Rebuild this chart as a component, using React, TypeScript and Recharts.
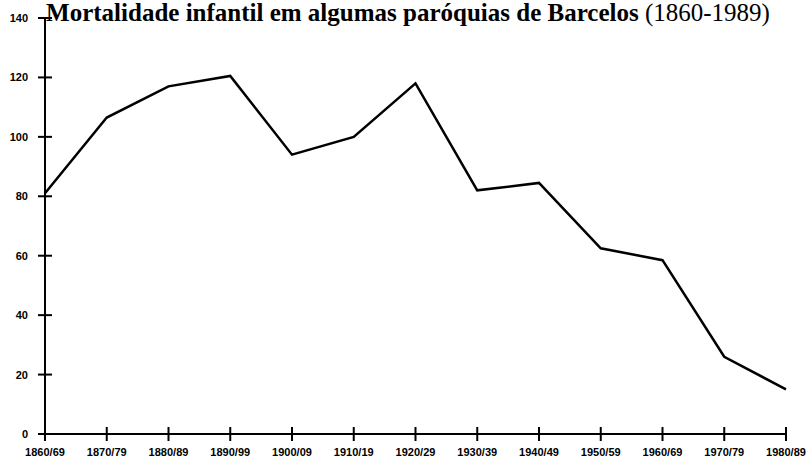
import React from 'react';
import { LineChart, Line, XAxis, YAxis } from 'recharts';

const decades = [
  '1860/69', '1870/79', '1880/89', '1890/99', '1900/09', '1910/19', '1920/29',
  '1930/39', '1940/49', '1950/59', '1960/69', '1970/79', '1980/89',
];
const mortality = [81, 106.5, 117, 120.5, 94, 100, 118, 82, 84.5, 62.5, 58.5, 26, 15];
const yTicks = [0, 20, 40, 60, 80, 100, 120, 140];

const data = decades.map((d, i) => ({ decade: d, value: mortality[i] }));

const XTick = (props: any) => {
  const { x, y, payload } = props;
  return (
    <g>
      <path d={`M${x},${y - 7}L${x},${y + 7}`} stroke="#000" strokeWidth={2} fill="none" />
      <text x={x} y={y + 22} textAnchor="middle" fontSize={11} fontWeight="bold"
        fontFamily="'Liberation Sans', Arial, sans-serif" fill="#000">
        {payload.value}
      </text>
    </g>
  );
};

const YTick = (props: any) => {
  const { x, y, payload } = props;
  return (
    <g>
      <path d={`M${x - 7},${y}L${x + 7},${y}`} stroke="#000" strokeWidth={2} fill="none" />
      <text x={x - 17} y={y + 4} textAnchor="end" fontSize={11} fontWeight="bold"
        fontFamily="'Liberation Sans', Arial, sans-serif" fill="#000">
        {payload.value}
      </text>
    </g>
  );
};

const App: React.FC = () => (
  <div style={{ position: 'absolute', left: 0, top: 0, width: 811, height: 466, background: '#fff' }}>
    <LineChart width={811} height={466} data={data} margin={{ top: 18, right: 25, left: 0, bottom: 0 }}>
      <text x={408} y={21} textAnchor="middle" fontSize={25}
        fontFamily="'Liberation Serif', 'Times New Roman', serif" fill="#000">
        <tspan fontWeight="bold">Mortalidade infantil em algumas paróquias de Barcelos </tspan>
        <tspan>(1860-1989)</tspan>
      </text>
      <XAxis dataKey="decade" tickLine={false} tickSize={0} tickMargin={0} interval={0}
        axisLine={{ stroke: '#000', strokeWidth: 2 }} tick={XTick} height={32} />
      <YAxis domain={[0, 140]} ticks={yTicks} tickLine={false} tickSize={0} tickMargin={0}
        axisLine={{ stroke: '#000', strokeWidth: 2 }} tick={YTick} width={45} />
      <Line type="linear" dataKey="value" stroke="#000" strokeWidth={2.5} dot={false}
        isAnimationActive={false} />
    </LineChart>
  </div>
);

export default App;
